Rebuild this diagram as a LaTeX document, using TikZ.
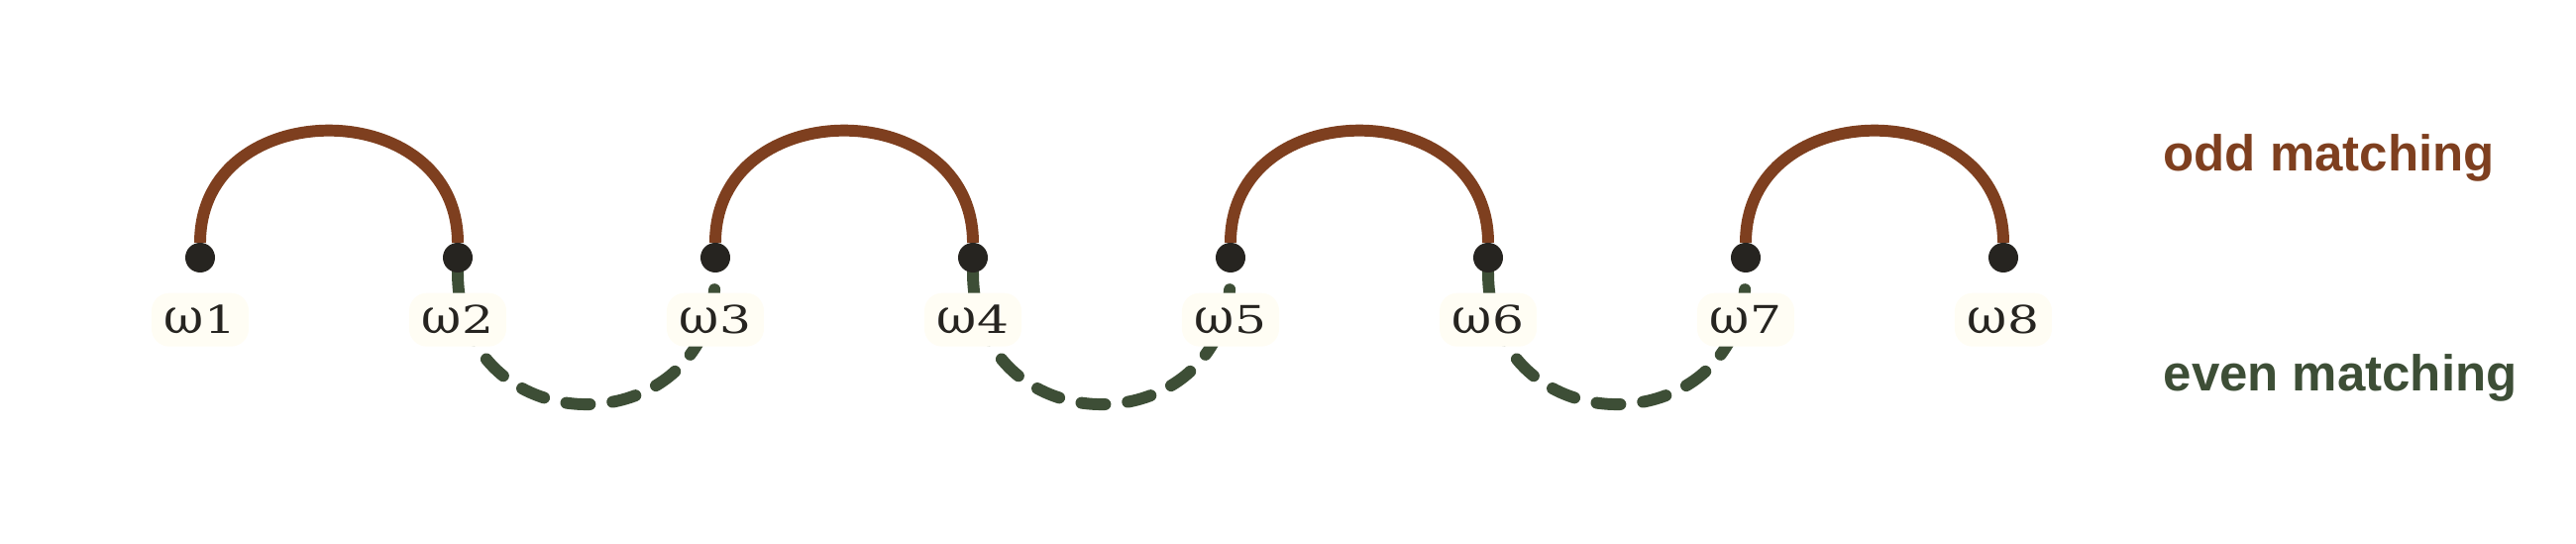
\documentclass[tikz,border=0pt]{standalone}
\usepackage{fontspec}
\usetikzlibrary{positioning,backgrounds}
\newfontfamily\omegafont{DejaVu Serif}
\newfontfamily\digitfont[FakeStretch=1.3]{DejaVu Serif}
\newfontfamily\legendfont{Liberation Sans}
\newcommand\omg{{\omegafont\fontsize{14}{16}\selectfont ω}}
\definecolor{oddbrown}{HTML}{7E3F1F}
\definecolor{evengreen}{HTML}{3D4E36}
\definecolor{dotgray}{HTML}{262420}
\definecolor{labelcream}{HTML}{FFFDF4}

\begin{document}
\begin{tikzpicture}[node distance=2.30cm, vertex/.style={circle, fill=dotgray, inner sep=0pt, outer sep=0pt, minimum size=0.30cm}, wlabel/.style={rectangle, rounded corners=0.18cm, fill=labelcream, minimum height=0.54cm, inner xsep=0.13cm, font=\digitfont\fontsize{11}{13}\selectfont, text=dotgray}, oddarc/.style={oddbrown, line width=3.4pt, out=90, in=90, looseness=1.49}, evenarc/.style={evengreen, line width=3.4pt, line cap=round, dash pattern=on 0.24cm off 0.23cm, out=-90, in=-90, looseness=1.75}, legend/.style={anchor=base west, inner sep=0pt, font=\legendfont\bfseries\fontsize{14.5}{17}\selectfont}]
	\useasboundingbox (0,0) rectangle (26,5.49);
	% points
	\node[vertex] (w1) at (2.02,2.89) {};
	\node[vertex] (w2) [right = of w1] {};
	\node[vertex] (w3) [right = of w2] {};
	\node[vertex] (w4) [right = of w3] {};
	\node[vertex] (w5) [right = of w4] {};
	\node[vertex] (w6) [right = of w5] {};
	\node[vertex] (w7) [right = of w6] {};
	\node[vertex] (w8) [right = of w7] {};
	% labels
	\node[wlabel] (l1) [below = 0.20cm of w1] {\omg1};
	\node[wlabel] (l2) [below = 0.20cm of w2] {\omg2};
	\node[wlabel] (l3) [below = 0.20cm of w3] {\omg3};
	\node[wlabel] (l4) [below = 0.20cm of w4] {\omg4};
	\node[wlabel] (l5) [below = 0.20cm of w5] {\omg5};
	\node[wlabel] (l6) [below = 0.20cm of w6] {\omg6};
	\node[wlabel] (l7) [below = 0.20cm of w7] {\omg7};
	\node[wlabel] (l8) [below = 0.20cm of w8] {\omg8};
	% legend
	\node[legend, text=oddbrown] (odd) at (21.83,3.76) {odd matching};
	\node[legend, text=evengreen] (even) at (21.83,1.54) {even matching};
	\begin{pgfonlayer}{background}
		\draw[oddarc] (w1) to (w2);
		\draw[oddarc] (w3) to (w4);
		\draw[oddarc] (w5) to (w6);
		\draw[oddarc] (w7) to (w8);
		\draw[evenarc] (w2) to (w3);
		\draw[evenarc] (w4) to (w5);
		\draw[evenarc] (w6) to (w7);
	\end{pgfonlayer}
\end{tikzpicture}
\end{document}
